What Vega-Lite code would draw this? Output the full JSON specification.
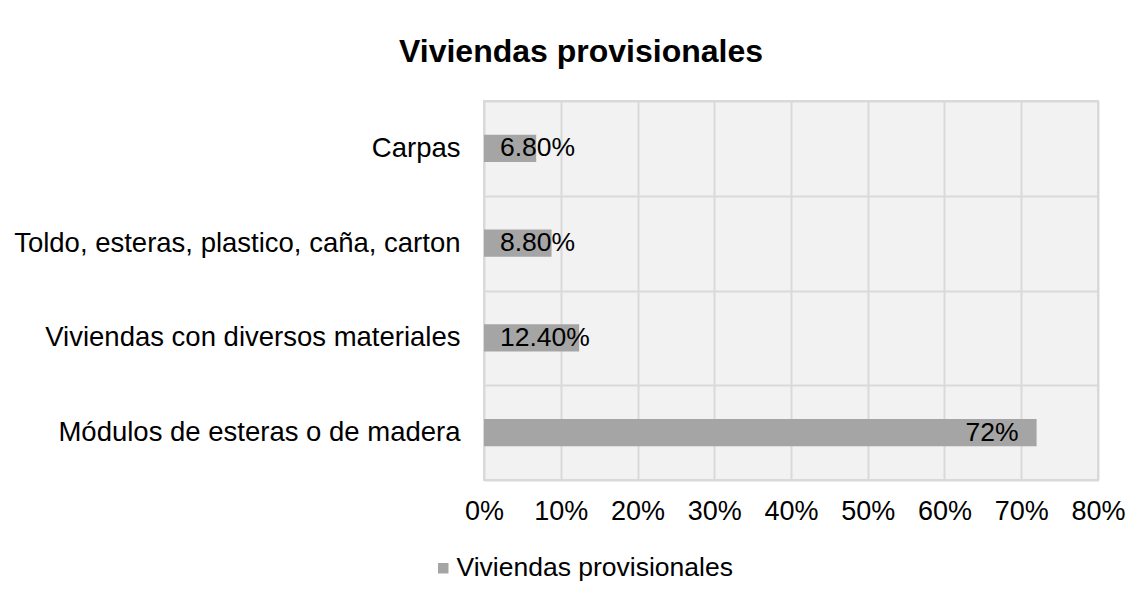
{
  "$schema": "https://vega.github.io/schema/vega-lite/v6.json",
  "width": 614,
  "height": 379,
  "autosize": "none",
  "padding": {"left": 484, "top": 101, "right": 45, "bottom": 119},
  "background": "white",
  "title": {
    "text": "Viviendas provisionales",
    "font": "Liberation Sans",
    "fontSize": 32,
    "fontWeight": "bold",
    "color": "#000000",
    "anchor": "middle",
    "frame": "group",
    "dx": -210,
    "offset": 18
  },
  "data": {
    "values": [
      {"cat": "Carpas", "v": 0.068, "label": "6.80%", "serie": "Viviendas provisionales"},
      {"cat": "Toldo, esteras, plastico, caña, carton", "v": 0.088, "label": "8.80%", "serie": "Viviendas provisionales"},
      {"cat": "Viviendas con diversos materiales", "v": 0.124, "label": "12.40%", "serie": "Viviendas provisionales"},
      {"cat": "Módulos de esteras o de madera", "v": 0.72, "label": "72%", "serie": "Viviendas provisionales"}
    ]
  },
  "encoding": {
    "y": {
      "field": "cat",
      "type": "nominal",
      "sort": null,
      "scale": {"paddingInner": 0, "paddingOuter": 0},
      "axis": {
        "title": null,
        "domain": false,
        "ticks": false,
        "tickSize": 0,
        "tickBand": "extent",
        "grid": true,
        "gridColor": "#d9d9d9",
        "gridWidth": 2,
        "labelFont": "Liberation Sans",
        "labelFontSize": 27.5,
        "labelColor": "#000000",
        "labelPadding": 24,
        "labelLimit": 600
      }
    }
  },
  "layer": [
    {
      "mark": {"type": "bar", "color": "#a5a5a5", "height": {"band": 0.286}},
      "encoding": {
        "x": {
          "field": "v",
          "type": "quantitative",
          "scale": {"domain": [0, 0.8], "nice": false},
          "axis": {
            "title": null,
            "format": ".0%",
            "values": [0, 0.1, 0.2, 0.3, 0.4, 0.5, 0.6, 0.7, 0.8],
            "labelOverlap": false,
            "labelFlush": false,
            "domain": false,
            "ticks": false,
            "tickSize": 0,
            "grid": true,
            "gridColor": "#d9d9d9",
            "gridWidth": 2,
            "labelFont": "Liberation Sans",
            "labelFontSize": 27,
            "labelColor": "#000000",
            "labelPadding": 18
          }
        },
        "color": {
          "field": "serie",
          "type": "nominal",
          "scale": {"range": ["#a5a5a5"]},
          "legend": {
            "title": null,
            "orient": "none",
            "legendX": -54,
            "legendY": 454,
            "symbolType": "square",
            "symbolSize": 110,
            "symbolStrokeWidth": 0,
            "labelFont": "Liberation Sans",
            "labelFontSize": 26.5,
            "labelColor": "#000000",
            "labelOffset": 0,
            "labelLimit": 600
          }
        }
      }
    },
    {
      "transform": [{"filter": "datum.v > 0.3"}],
      "mark": {"type": "text", "align": "right", "dx": -18, "font": "Liberation Sans", "fontSize": 26.5, "color": "#000000"},
      "encoding": {
        "x": {"field": "v", "type": "quantitative"},
        "text": {"field": "label"}
      }
    },
    {
      "transform": [{"filter": "datum.v <= 0.3"}],
      "mark": {"type": "text", "align": "left", "dx": 16, "font": "Liberation Sans", "fontSize": 26.5, "color": "#000000"},
      "encoding": {
        "x": {"datum": 0, "type": "quantitative"},
        "text": {"field": "label"}
      }
    }
  ],
  "config": {
    "view": {"fill": "#f2f2f2", "stroke": "#d9d9d9", "strokeWidth": 2}
  }
}
